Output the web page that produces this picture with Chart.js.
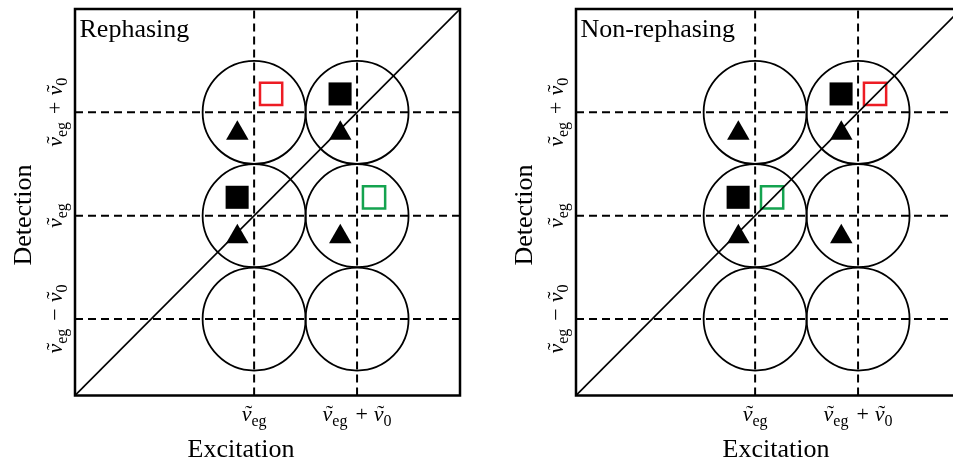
<!DOCTYPE html>
<html>
<head>
<meta charset="utf-8">
<script src="https://cdn.jsdelivr.net/npm/chart.js@4.4.1/dist/chart.umd.min.js"></script>
<style>
  html, body { margin: 0; padding: 0; background: #fff; overflow: hidden; width: 953px; height: 463px; position: relative; }
  canvas { position: absolute; top: 0; }
  #rephasing { left: 0; }
  #nonrephasing { left: 501px; }
</style>
</head>
<body>
<canvas id="rephasing" width="480" height="463"></canvas>
<canvas id="nonrephasing" width="480" height="463"></canvas>
<script>
// positions in units of the vibrational spacing (v0 = 1)
const VEG = 1.74;
const V0 = 1;
const AXIS_MAX = 3.74;

const xTickValues = [VEG, VEG + V0];
const xTickLabels = ['ν̃_eg', 'ν̃_eg + ν̃_0'];
const yTickValues = [VEG - V0, VEG, VEG + V0];
const yTickLabels = ['ν̃_eg − ν̃_0', 'ν̃_eg', 'ν̃_eg + ν̃_0'];

const peakCircles = [
  { x: 1.74, y: 2.74 }, { x: 2.74, y: 2.74 },
  { x: 1.74, y: 1.74 }, { x: 2.74, y: 1.74 },
  { x: 1.74, y: 0.74 }, { x: 2.74, y: 0.74 }
];
const triangles = [
  { x: 1.577, y: 2.537 }, { x: 2.577, y: 2.537 },
  { x: 1.577, y: 1.537 }, { x: 2.577, y: 1.537 }
];
const filledSquares = [{ x: 2.575, y: 2.918 }, { x: 1.575, y: 1.918 }];

const rephRed = [{ x: 1.905, y: 2.918 }];
const rephGreen = [{ x: 2.905, y: 1.918 }];
const nonrephRed = [{ x: 2.905, y: 2.918 }];
const nonrephGreen = [{ x: 1.905, y: 1.918 }];

const RED = '#ed1c24';
const GREEN = '#14a34f';
const SERIF = '"Liberation Serif", "DejaVu Serif", serif';
const NU_FONT = 'italic 22px ' + SERIF;
const OP_FONT = '22px ' + SERIF;
const SUB_FONT = '16px ' + SERIF;

// draws e.g. "ν̃_eg + ν̃_0" centred on cx, ν baseline at y
function drawMathLabel(ctx, label, cx, y) {
  const parts = [];
  label.split(' ').forEach(term => {
    if (term === '+' || term === '−') {
      parts.push({ text: term, font: OP_FONT, before: 8, after: 6 });
      return;
    }
    const [base, sub] = term.split('_');
    parts.push({ text: base.replace('\u0303', ''), font: NU_FONT, tilde: base.includes('\u0303') });
    if (sub) parts.push({ text: sub, font: SUB_FONT, dy: 5 });
  });
  let total = 0;
  parts.forEach(p => {
    ctx.font = p.font;
    p.w = ctx.measureText(p.text).width;
    total += p.w + (p.before || 0) + (p.after || 0);
  });
  let x = cx - total / 2;
  ctx.textAlign = 'left';
  ctx.textBaseline = 'alphabetic';
  parts.forEach(p => {
    x += p.before || 0;
    ctx.font = p.font;
    ctx.fillText(p.text, x, y + (p.dy || 0));
    if (p.tilde) {
      ctx.font = OP_FONT;
      ctx.textAlign = 'center';
      ctx.fillText('˜', x + p.w / 2 + 2, y - 1.5);
      ctx.textAlign = 'left';
    }
    x += p.w + (p.after || 0);
  });
}

const framePlugin = {
  id: 'frame',
  afterDraw(chart) {
    const { ctx, chartArea: a, scales } = chart;
    const opts = chart.options.plugins.frame;
    ctx.save();
    ctx.strokeStyle = '#000';
    ctx.lineWidth = 2.5;
    ctx.strokeRect(a.left, a.top, a.right - a.left, a.bottom - a.top);

    ctx.fillStyle = '#000';
    ctx.font = '26px ' + SERIF;
    ctx.textAlign = 'left';
    ctx.textBaseline = 'alphabetic';
    ctx.fillText(opts.title, a.left + 4.5, a.top + 28);

    ctx.textAlign = 'center';
    ctx.fillText('Excitation', a.left + opts.xTitleOffset, a.bottom + 61);

    ctx.save();
    ctx.translate(a.left - 44, a.top + 206);
    ctx.rotate(-Math.PI / 2);
    ctx.textAlign = 'center';
    ctx.fillText('Detection', 0, 0);
    ctx.restore();

    xTickValues.forEach((v, i) => {
      drawMathLabel(ctx, xTickLabels[i], scales.x.getPixelForValue(v), a.bottom + 25.5);
    });
    yTickValues.forEach((v, i) => {
      ctx.save();
      ctx.translate(a.left - 13, scales.y.getPixelForValue(v));
      ctx.rotate(-Math.PI / 2);
      drawMathLabel(ctx, yTickLabels[i], 0, 0);
      ctx.restore();
    });
    ctx.restore();
  }
};

function lineDs(pts, dash, width) {
  return {
    type: 'line', data: pts, borderColor: '#000', borderWidth: width, borderDash: dash,
    pointRadius: 0, fill: false, tension: 0
  };
}

function pointDs(pts, style, radius, fill, stroke, width) {
  return {
    type: 'scatter', data: pts, pointStyle: style, pointRadius: radius,
    backgroundColor: fill, borderColor: stroke, borderWidth: width, clip: false
  };
}

function makePanel(id, title, redPts, greenPts, xTitleOffset) {
  const datasets = [];
  xTickValues.forEach(v => datasets.push(lineDs([{ x: v, y: 0 }, { x: v, y: AXIS_MAX }], [8, 5], 2)));
  yTickValues.forEach(v => datasets.push(lineDs([{ x: 0, y: v }, { x: AXIS_MAX, y: v }], [8, 5], 2)));
  datasets.push(lineDs([{ x: 0, y: 0 }, { x: AXIS_MAX, y: AXIS_MAX }], [], 1.6));
  datasets.push(pointDs(peakCircles, 'circle', 51.5, 'rgba(0,0,0,0)', '#000', 1.8));
  datasets.push(pointDs(triangles, 'triangle', 13, '#000', '#000', 0));
  datasets.push(pointDs(filledSquares, 'rect', 16.3, '#000', '#000', 0));
  datasets.push(pointDs(redPts, 'rect', 15.7, 'rgba(0,0,0,0)', RED, 2.5));
  datasets.push(pointDs(greenPts, 'rect', 15.7, 'rgba(0,0,0,0)', GREEN, 2.5));

  return new Chart(document.getElementById(id), {
    type: 'scatter',
    data: { datasets },
    plugins: [framePlugin],
    options: {
      responsive: false,
      animation: false,
      events: [],
      layout: { autoPadding: false, padding: { left: 75, top: 9, right: 20, bottom: 67.5 } },
      scales: {
        x: { type: 'linear', min: 0, max: AXIS_MAX, display: false },
        y: { type: 'linear', min: 0, max: AXIS_MAX, display: false }
      },
      plugins: {
        legend: { display: false },
        tooltip: { enabled: false },
        frame: { title, xTitleOffset }
      }
    }
  });
}

makePanel('rephasing', 'Rephasing', rephRed, rephGreen, 166);
makePanel('nonrephasing', 'Non-rephasing', nonrephRed, nonrephGreen, 200);
</script>
</body>
</html>
